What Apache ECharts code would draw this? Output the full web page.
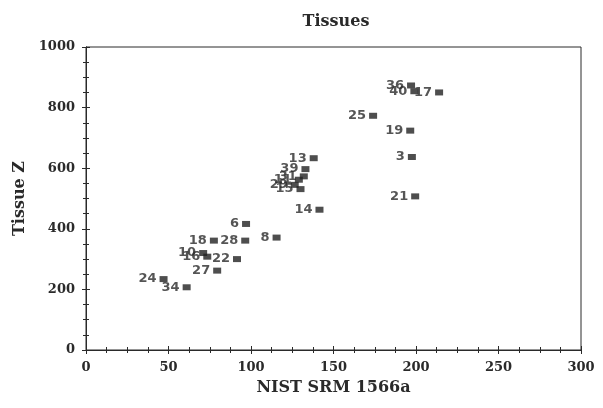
<!DOCTYPE html>
<html><head><meta charset="utf-8">
<script src="https://cdn.jsdelivr.net/npm/echarts@6/dist/echarts.min.js"></script>
<style>html,body{margin:0;padding:0;background:#fff}#c{width:603px;height:408px}</style>
</head><body><div id="c"></div>
<script>
const labels = ['36','40','17','25','19','3','21','13','39','31','11','29','15','14','8','6','18','28','10','16','22','27','24','34'];
const nistValues = [197,199,214,174,196.5,197.5,199.5,138,133,132,129,126.5,130,141.5,115.5,97,77.5,96.5,71,73.5,91.5,79.5,47,61];
const tissueValues = [873,854,850,773,724,637,507,633,597,573,562,545,531,463,371,416,361,361,320,308,300,262,234,207];
const xTicks = {min:0, max:300, interval:50};
const yTicks = {min:0, max:1000, interval:200};

const data = labels.map((l,i)=>({value:[nistValues[i], tissueValues[i]], name:l}));
const serif = '"DejaVu Serif","Liberation Serif",serif';
const ink = '#2a2a2a';
const baseAxis = {
  axisLine:{onZero:false, lineStyle:{color:ink, width:1}},
  splitLine:{show:false},
  minorSplitLine:{show:false},
};
const tickLabel = {fontFamily:serif, fontWeight:'bold', fontSize:13, color:ink, margin:11, formatter:v=>String(v)};
const chart = echarts.init(document.getElementById('c'));
chart.setOption({
  animation:false,
  backgroundColor:'#fff',
  title:{text:'Tissues', left:331, textAlign:'center', top:9, textStyle:{fontFamily:serif, fontWeight:'bold', fontSize:16, color:ink}},
  grid:{left:86, right:22, top:47, bottom:58, show:true, borderColor:ink, borderWidth:1},
  xAxis:[
    Object.assign({type:'value', min:xTicks.min, max:xTicks.max, interval:xTicks.interval, position:'bottom',
      name:'NIST SRM 1566a', nameLocation:'middle', nameGap:30,
      nameTextStyle:{fontFamily:serif, fontWeight:'bold', fontSize:16, color:ink},
      axisLabel:tickLabel,
      axisTick:{show:true, length:4, lineStyle:{color:ink}},
      minorTick:{show:true, splitNumber:4, length:3, lineStyle:{color:ink}}}, baseAxis),
    Object.assign({type:'value', min:xTicks.min, max:xTicks.max, interval:xTicks.interval, position:'bottom',
      axisLabel:{show:false},
      axisTick:{show:true, inside:true, length:4, lineStyle:{color:ink}},
      minorTick:{show:true, splitNumber:4, length:3, lineStyle:{color:ink}}}, baseAxis)
  ],
  yAxis:[
    Object.assign({type:'value', min:yTicks.min, max:yTicks.max, interval:yTicks.interval, position:'left',
      name:'Tissue Z', nameLocation:'middle', nameGap:56,
      nameTextStyle:{fontFamily:serif, fontWeight:'bold', fontSize:16, color:ink},
      axisLabel:tickLabel,
      axisTick:{show:true, length:4, lineStyle:{color:ink}},
      minorTick:{show:true, splitNumber:4, length:3, lineStyle:{color:ink}}}, baseAxis),
    Object.assign({type:'value', min:yTicks.min, max:yTicks.max, interval:yTicks.interval, position:'left',
      axisLabel:{show:false},
      axisTick:{show:true, inside:true, length:4, lineStyle:{color:ink}},
      minorTick:{show:true, splitNumber:4, length:3, lineStyle:{color:ink}}}, baseAxis)
  ],
  series:[{
    type:'scatter', xAxisIndex:0, yAxisIndex:0,
    symbol:'rect', symbolSize:[8,6],
    itemStyle:{color:'#222'},
    label:{show:true, position:'left', distance:3, formatter:p=>p.name,
      fontFamily:'"DejaVu Sans",sans-serif', fontWeight:'bold', fontSize:13, color:'#2a2a2a'},
    data:data
  }]
});
</script></body></html>
